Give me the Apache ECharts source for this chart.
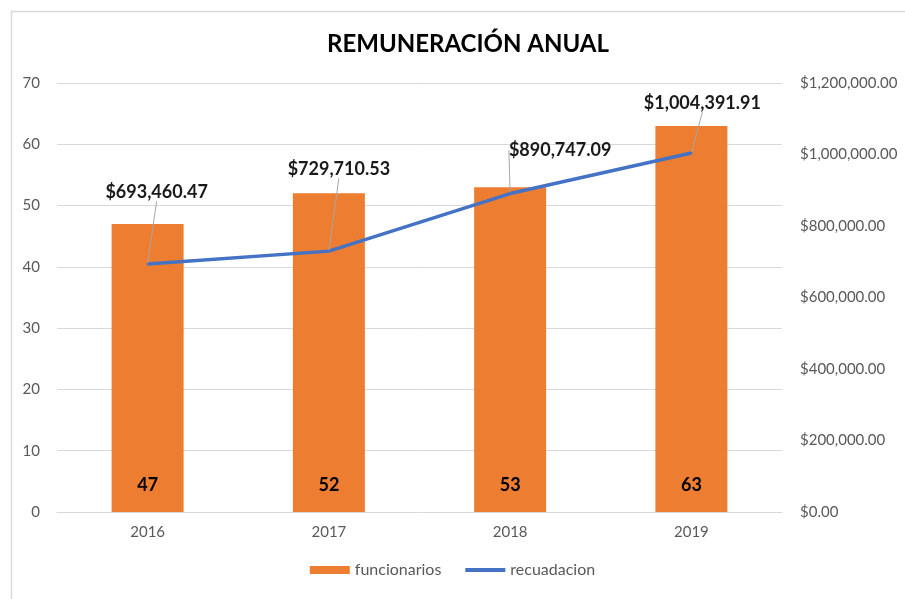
<!DOCTYPE html>
<html>
<head>
<meta charset="utf-8">
<script src="https://cdn.jsdelivr.net/npm/echarts@6/dist/echarts.min.js"></script>
<style>html,body{margin:0;padding:0;background:#fff}#c{width:905px;height:599px}</style>
</head>
<body>
<div id="c"></div>
<script>
const categories = ['2016', '2017', '2018', '2019'];
const funcionarios = [47, 52, 53, 63];
const recuadacion = [693460.47, 729710.53, 890747.09, 1004391.91];
const leftTicks = { min: 0, max: 70, interval: 10 };
const rightTicks = { min: 0, max: 1200000, interval: 200000 };
const labelShifts = [[9, -72], [10, -82], [50, -43], [11, -50]];

const FONT = 'Lato';
function money(v) {
  return '$' + v.toLocaleString('en-US', { minimumFractionDigits: 2, maximumFractionDigits: 2 });
}
const chart = echarts.init(document.getElementById('c'));
chart.setOption({
  animation: false,
  textStyle: { fontFamily: FONT },
  title: {
    text: 'REMUNERACIÓN ANUAL',
    left: 463, top: 27, textAlign: 'center',
    textStyle: { fontFamily: FONT, fontSize: 24, fontWeight: 'bold', color: '#000' }
  },
  graphic: [{
    type: 'rect', left: 9, top: 9, z: -10,
    shape: { width: 1000, height: 700 },
    style: { fill: 'none', stroke: '#d9d9d9', lineWidth: 1.5 }
  }],
  legend: {
    bottom: 16, left: 'center', itemGap: 24, itemWidth: 40, itemHeight: 8,
    textStyle: { fontFamily: FONT, fontSize: 16, color: '#595959' },
    data: [
      { name: 'funcionarios', icon: 'rect' },
      { name: 'recuadacion', icon: 'path://M0,0 L40,0 L40,4 L0,4 Z', itemStyle: { color: '#4472C4', opacity: 1 } }
    ]
  },
  grid: { left: 57, right: 123, top: 83, bottom: 87 },
  xAxis: {
    type: 'category', data: categories,
    axisLine: { lineStyle: { color: '#d9d9d9', width: 1 } },
    axisTick: { show: false },
    axisLabel: { color: '#595959', fontSize: 15, margin: 13, fontFamily: FONT }
  },
  yAxis: [{
    type: 'value', min: leftTicks.min, max: leftTicks.max, interval: leftTicks.interval,
    axisLine: { show: false }, axisTick: { show: false },
    splitLine: { lineStyle: { color: '#d9d9d9', width: 1 } },
    axisLabel: { color: '#595959', fontSize: 15, margin: 17, fontFamily: FONT }
  }, {
    type: 'value', min: rightTicks.min, max: rightTicks.max, interval: rightTicks.interval,
    axisLine: { show: false }, axisTick: { show: false }, splitLine: { show: false },
    axisLabel: { color: '#595959', fontSize: 15, margin: 18, fontFamily: FONT, formatter: money }
  }],
  series: [{
    name: 'funcionarios', type: 'bar', data: funcionarios, barWidth: 72,
    itemStyle: { color: '#ED7D31' },
    label: {
      show: true, position: 'insideBottom', distance: 18,
      fontFamily: FONT, fontSize: 18, fontWeight: 'bold', color: '#000'
    }
  }, {
    name: 'recuadacion', type: 'line', yAxisIndex: 1, data: recuadacion,
    symbol: 'circle', symbolSize: 2, itemStyle: { color: '#4472C4' },
    lineStyle: { color: '#4472C4', width: 3.5 },
    label: {
      show: true, position: 'inside', formatter: p => money(p.value),
      fontFamily: FONT, fontSize: 18, fontWeight: 'bold', color: '#1a1a1a'
    },
    labelLine: { show: true, lineStyle: { color: '#a6a6a6', width: 1 } },
    labelLayout: p => ({ dx: labelShifts[p.dataIndex][0], dy: labelShifts[p.dataIndex][1] }),
    emphasis: { disabled: true }
  }]
});
</script>
</body>
</html>
